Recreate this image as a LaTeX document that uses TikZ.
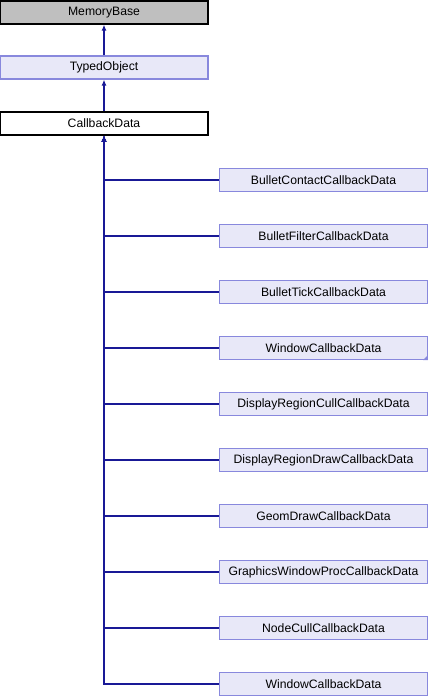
\documentclass[tikz,border=0pt]{standalone}
\usepackage{fontspec}
\setmainfont{Liberation Sans}
\usetikzlibrary{arrows.meta, positioning}

\definecolor{edgeblue}{RGB}{25,25,150}
\definecolor{boxfill}{RGB}{232,232,248}
\definecolor{boxline}{RGB}{136,136,221}
\definecolor{basefill}{RGB}{191,191,191}

\tikzset{
  classbox/.style={draw=boxline, fill=boxfill, line width=1.2pt, minimum width=208pt,
    minimum height=23pt, inner sep=0pt, font=\fontsize{12.2}{14}\selectfont},
  basebox/.style={classbox, draw=black, fill=basefill},
  thisbox/.style={classbox, draw=black, fill=white},
  edge/.style={edgeblue, line width=1.2pt, -{Latex[length=6pt, width=5pt]}}
}

\begin{document}
\begin{tikzpicture}[x=1pt, y=-1pt]
  \useasboundingbox (0,0) rectangle (428,696);

  % classi base
  \node[basebox] (mem) at (104,12.5) {MemoryBase};
  \node[classbox] (typed) at (104,67.5) {TypedObject};
  \node[thisbox] (cb) at (104,123.5) {CallbackData};

  \draw[edge] (typed) -- (mem);
  \draw[edge] (cb) -- (typed);

  % classi derivate
  \foreach \name [count=\i from 0] in {BulletContactCallbackData, BulletFilterCallbackData,
      BulletTickCallbackData, WindowCallbackData, DisplayRegionCullCallbackData,
      DisplayRegionDrawCallbackData, GeomDrawCallbackData, GraphicsWindowProcCallbackData,
      NodeCullCallbackData, WindowCallbackData}{
    \node[classbox] (d\i) at (323.5,{180+56*\i}) {\name};
    \draw[edge] (d\i.west) -| (cb.south);
  }

  % triangolo nell'angolo
  \fill[boxline] (d3.south east) -- ++(0,-5) -- ++(-5,5) -- cycle;
\end{tikzpicture}
\end{document}
